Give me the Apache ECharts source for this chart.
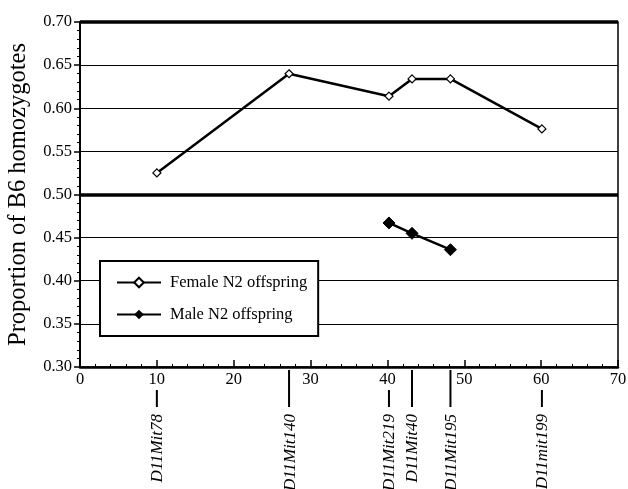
<!DOCTYPE html>
<html>
<head>
<meta charset="utf-8">
<script src="https://cdn.jsdelivr.net/npm/echarts@6/dist/echarts.min.js"></script>
<style>
  html, body { margin: 0; padding: 0; background: #fff; }
  #main { width: 628px; height: 489px; }
</style>
</head>
<body>
<div id="main"></div>
<script>
// marker positions on the chromosome (cM) and their names
var markerPos = [10, 27.2, 40.2, 43.2, 48.2, 60.1];
var markerNames = ['D11Mit78', 'D11Mit140', 'D11Mit219', 'D11Mit40', 'D11Mit195', 'D11mit199'];
// proportion of B6 homozygotes
var femaleVals = [0.525, 0.640, 0.614, 0.634, 0.634, 0.576];
var malePos = [40.2, 43.2, 48.2];
var maleVals = [0.467, 0.455, 0.436];

var serif = '"Liberation Serif", "DejaVu Serif", serif';

var chartDom = document.getElementById('main');
var chart = echarts.init(chartDom);

var femaleData = markerPos.map(function (p, i) { return [p, femaleVals[i]]; });
var maleData = malePos.map(function (p, i) { return [p, maleVals[i]]; });
var markerData = markerPos.map(function (p, i) { return [p, 0.30, markerNames[i]]; });

var option = {
    animation: false,
    grid: {
        left: 80,
        right: 10,
        top: 22,
        bottom: 122,
        containLabel: false,
        outerBoundsMode: 'none',
        show: true,
        borderColor: '#000',
        borderWidth: 1.5
    },
    legend: {
        orient: 'vertical',
        left: 100,
        top: 261,
        padding: [13, 11, 13, 16],
        itemGap: 15,
        itemWidth: 44,
        itemHeight: 12,
        backgroundColor: '#fff',
        borderColor: '#000',
        borderWidth: 2,
        data: ['Female N2 offspring', 'Male N2 offspring'],
        textStyle: { fontFamily: serif, fontSize: 16.5, color: '#000', padding: [0, 0, 0, 4] }
    },
    xAxis: {
        type: 'value',
        min: 0,
        max: 70,
        interval: 10,
        axisLine: { lineStyle: { color: '#000', width: 2.5 } },
        axisTick: { inside: true, length: 7, lineStyle: { color: '#000', width: 1.5 } },
        minorTick: { show: true, splitNumber: 5, length: 3, lineStyle: { color: '#000', width: 1 } },
        axisLabel: { fontFamily: serif, fontSize: 16.5, color: '#000', margin: 4 },
        splitLine: { show: false }
    },
    yAxis: {
        type: 'value',
        min: 0.30,
        max: 0.70,
        interval: 0.05,
        name: 'Proportion of B6 homozygotes',
        nameLocation: 'middle',
        nameGap: 49,
        nameTextStyle: { fontFamily: serif, fontSize: 24.5, color: '#000' },
        axisLine: { show: true, lineStyle: { color: '#000', width: 2 } },
        axisTick: { show: true, length: 6, lineStyle: { color: '#000', width: 1.5 } },
        minorTick: { show: true, splitNumber: 5, length: 3, lineStyle: { color: '#000', width: 1 } },
        axisLabel: {
            fontFamily: serif, fontSize: 16.5, color: '#000', margin: 8,
            formatter: function (v) { return v.toFixed(2); }
        },
        splitLine: { show: true, lineStyle: { color: '#000', width: 1 } }
    },
    series: [
        {
            name: 'Female N2 offspring',
            type: 'line',
            data: femaleData,
            symbol: 'diamond',
            symbolSize: 8,
            color: '#000',
            lineStyle: { color: '#000', width: 2.5 },
            itemStyle: { color: '#fff', borderColor: '#000', borderWidth: 1.2 },
            markLine: {
                silent: true,
                symbol: 'none',
                label: { show: false },
                data: [
                    { yAxis: 0.50, lineStyle: { color: '#000', width: 3.5, type: 'solid' } },
                    { yAxis: 0.70, lineStyle: { color: '#000', width: 3.5, type: 'solid' } }
                ]
            },
            z: 5
        },
        {
            name: 'Male N2 offspring',
            type: 'line',
            data: maleData,
            symbol: 'diamond',
            symbolSize: 12,
            color: '#000',
            lineStyle: { color: '#000', width: 2.5 },
            itemStyle: { color: '#000', borderColor: '#000' },
            z: 5
        },
        {
            // marker ticks and names below the x axis
            type: 'custom',
            clip: false,
            silent: true,
            data: markerData,
            renderItem: function (params, api) {
                var pos = api.value(0);
                var pt = api.coord([pos, api.value(1)]);
                // marker sitting on a labelled tick starts below the number
                var nearLabel = Math.abs(pos - Math.round(pos / 10) * 10) < 1.5;
                var y0 = nearLabel ? pt[1] + 23 : pt[1] + 3;
                var y1 = pt[1] + 40;
                return {
                    type: 'group',
                    children: [
                        {
                            type: 'line',
                            shape: { x1: pt[0], y1: y0, x2: pt[0], y2: y1 },
                            style: { stroke: '#000', lineWidth: 2 }
                        },
                        {
                            type: 'text',
                            x: pt[0] + 1,
                            y: pt[1] + 47,
                            rotation: Math.PI / 2,
                            style: {
                                text: markerData[params.dataIndex][2],
                                x: 0,
                                y: 0,
                                align: 'right',
                                verticalAlign: 'middle',
                                fontFamily: serif,
                                fontStyle: 'italic',
                                fontSize: 17,
                                fill: '#000'
                            }
                        }
                    ]
                };
            }
        }
    ]
};

chart.setOption(option);
</script>
</body>
</html>
